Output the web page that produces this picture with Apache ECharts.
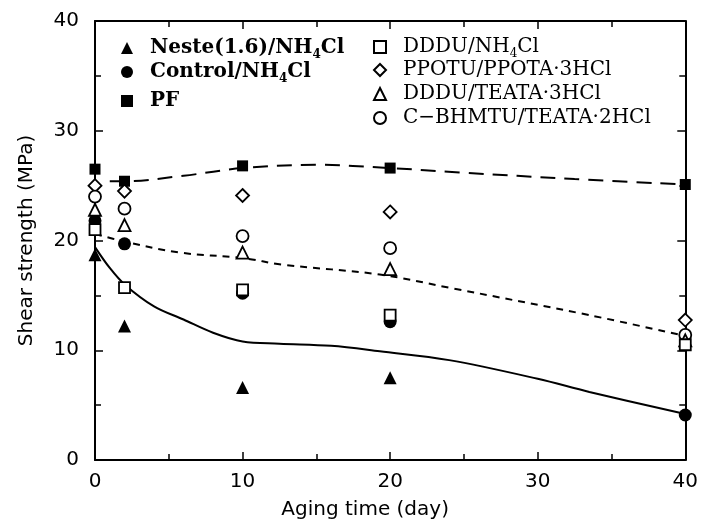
<!DOCTYPE html>
<html>
<head>
<meta charset="utf-8">
<script src="https://cdn.jsdelivr.net/npm/echarts@6/dist/echarts.min.js"></script>
<style>
    html, body { margin: 0; padding: 0; background: #fff; }
    #chart { width: 701px; height: 531px; }
</style>
</head>
<body>
<div id="chart"></div>
<script>
// aging time (day) of the measured points
const days = [0, 2, 10, 20, 40];

// shear strength (MPa) per adhesive system
const neste = [18.7, 12.2, 6.6, 7.5, null];
const control = [21.8, 19.7, 15.2, 12.6, 4.1];
const pf = [26.5, 25.4, 26.8, 26.6, 25.1];
const ddduNh4 = [21.0, 15.7, 15.5, 13.2, 10.5];
const ppotu = [25.0, 24.5, 24.1, 22.6, 12.75];
const ddduTeata = [22.8, 21.4, 18.9, 17.4, 10.9];
const cbhmtu = [24.0, 22.9, 20.4, 19.3, 11.4];

// fitted curves
const nesteFitX = [0, 1, 2, 4, 6, 8, 10, 12.5, 16, 19.3, 24, 30, 33.5, 40];
const nesteFitY = [19.4, 17.5, 16.0, 14.0, 12.8, 11.6, 10.8, 10.6, 10.4, 9.9, 9.1, 7.4, 6.2, 4.2];
const controlFitX = [0, 2, 5.75, 10, 12.7, 19.3, 24, 33.5, 40];
const controlFitY = [20.6, 19.9, 18.9, 18.4, 17.8, 16.9, 15.7, 13.2, 11.3];
const pfFitX = [1, 2, 6, 10, 15, 20, 24.7, 32.5, 40];
const pfFitY = [25.4, 25.4, 25.9, 26.6, 26.9, 26.6, 26.2, 25.6, 25.1];

const xTicks = [0, 10, 20, 30, 40];
const yTicks = [0, 10, 20, 30, 40];

function pairs(xs, ys) {
    return xs.map((x, i) => [x, ys[i]]);
}

const filled = { color: '#000', opacity: 1 };
const open = { color: '#fff', borderColor: '#000', borderWidth: 1.8, opacity: 1 };

function scatter(name, ys, symbol, size, style) {
    return {
        name: name,
        type: 'scatter',
        symbol: symbol,
        symbolSize: size,
        itemStyle: style,
        data: pairs(days, ys).filter(p => p[1] != null),
        z: 5
    };
}

function fit(xs, ys, dash) {
    return {
        type: 'line',
        smooth: 0.35,
        showSymbol: false,
        silent: true,
        lineStyle: { color: '#000', width: 2, type: dash },
        data: pairs(xs, ys),
        z: 3
    };
}

const labels = {
    'Neste': '{g|}{t|Neste(1.6)/NH}{s|4}{t|Cl}',
    'Control': '{g|}{t|Control/NH}{s|4}{t|Cl}',
    'PF': '{g|}{t|PF}',
    'DDDU/NH4Cl': '{g|}{r|DDDU/NH}{rs|4}{r|Cl}',
    'PPOTU': '{g|}{r|PPOTU/PPOTA·3HCl}',
    'DDDU/TEATA': '{g|}{r|DDDU/TEATA·3HCl}',
    'C-BHMTU': '{g|}{r|C−BHMTU/TEATA·2HCl}'
};

const rich = {
    g: { width: 12 },
    t: { fontFamily: 'DejaVu Serif', fontWeight: 'bold', fontSize: 20, color: '#000' },
    s: { fontFamily: 'DejaVu Serif', fontWeight: 'bold', fontSize: 12, color: '#000', padding: [14, 0, 0, 0] },
    r: { fontFamily: 'DejaVu Serif', fontSize: 20, color: '#000' },
    rs: { fontFamily: 'DejaVu Serif', fontSize: 12, color: '#000', padding: [14, 0, 0, 0] }
};

// one legend per row so each row sits where the figure has it
function legendRow(name, left, centerY) {
    return {
        orient: 'vertical',
        left: left,
        top: centerY - 12,
        itemWidth: 12,
        itemHeight: 12,
        selectedMode: false,
        data: [name],
        formatter: n => labels[n],
        textStyle: { rich: rich }
    };
}

const axisFont = { fontFamily: 'DejaVu Sans', fontSize: 20, color: '#000' };
const nameFont = { fontFamily: 'DejaVu Sans', fontSize: 20, color: '#000' };
const frameLine = { onZero: false, lineStyle: { color: '#000', width: 2 } };
const tickIn = { inside: true, length: 8, lineStyle: { color: '#000', width: 1.5 } };
const minorIn = { show: true, splitNumber: 2, length: 6, lineStyle: { color: '#000', width: 1.5 } };

const chart = echarts.init(document.getElementById('chart'), null, { renderer: 'canvas' });
chart.setOption({
    animation: false,
    backgroundColor: '#fff',
    grid: { left: 95, right: 15, top: 21, bottom: 71 },
    legend: [
        legendRow('Neste', 116, 45),
        legendRow('Control', 116, 69),
        legendRow('PF', 116, 98),
        legendRow('DDDU/NH4Cl', 368, 44),
        legendRow('PPOTU', 368, 67),
        legendRow('DDDU/TEATA', 368, 91),
        legendRow('C-BHMTU', 368, 115)
    ],
    xAxis: [
        {
            type: 'value', min: 0, max: 40, interval: 10,
            name: 'Aging time (day)', nameLocation: 'middle', nameGap: 40,
            nameTextStyle: Object.assign({ padding: [0, 50, 0, 0] }, nameFont),
            axisLine: frameLine, axisTick: tickIn, minorTick: minorIn,
            axisLabel: Object.assign({ margin: 12, formatter: v => xTicks.includes(v) ? String(v) : '' }, axisFont),
            splitLine: { show: false }
        },
        {
            type: 'value', min: 0, max: 40, interval: 10, position: 'top',
            axisLine: frameLine, axisTick: tickIn, minorTick: minorIn,
            axisLabel: { show: false }, splitLine: { show: false }
        }
    ],
    yAxis: [
        {
            type: 'value', min: 0, max: 40, interval: 10,
            name: 'Shear strength (MPa)', nameLocation: 'middle', nameGap: 58,
            nameTextStyle: nameFont,
            axisLine: frameLine, axisTick: tickIn, minorTick: minorIn,
            axisLabel: Object.assign({ margin: 16, formatter: v => yTicks.includes(v) ? String(v) : '' }, axisFont),
            splitLine: { show: false }
        },
        {
            type: 'value', min: 0, max: 40, interval: 10, position: 'right',
            axisLine: frameLine, axisTick: tickIn, minorTick: minorIn,
            axisLabel: { show: false }, splitLine: { show: false }
        }
    ],
    series: [
        fit(nesteFitX, nesteFitY, 'solid'),
        fit(controlFitX, controlFitY, [7, 6]),
        fit(pfFitX, pfFitY, [15, 9]),
        scatter('Neste', neste, 'triangle', 13, filled),
        scatter('Control', control, 'circle', 13, filled),
        scatter('PF', pf, 'rect', 11, filled),
        scatter('PPOTU', ppotu, 'diamond', 13, open),
        scatter('C-BHMTU', cbhmtu, 'circle', 12, open),
        scatter('DDDU/TEATA', ddduTeata, 'triangle', 12, open),
        scatter('DDDU/NH4Cl', ddduNh4, 'rect', 11, open)
    ]
});
</script>
</body>
</html>
